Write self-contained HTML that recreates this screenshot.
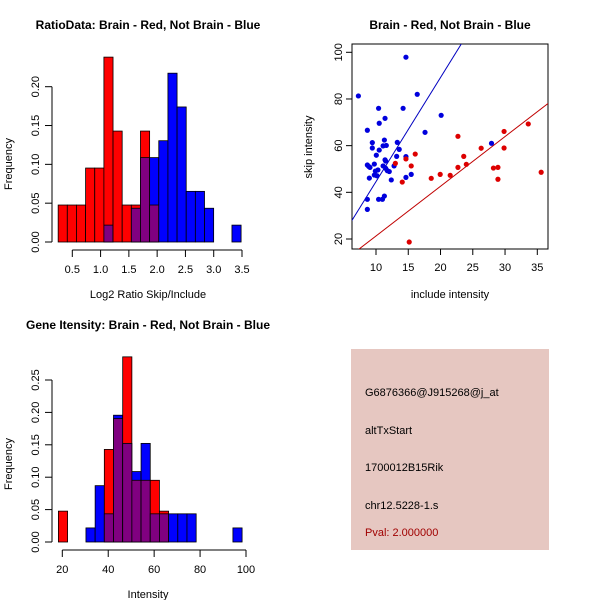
<!DOCTYPE html>
<html><head><meta charset="utf-8"><style>
body{margin:0;background:#fff;}
svg{display:block;font-family:"Liberation Sans",Arial,sans-serif;}
</style></head><body>
<svg id="s" width="600" height="600" viewBox="0 0 600 600" xmlns="http://www.w3.org/2000/svg">
<rect width="600" height="600" fill="#fff"/>
<g id="p1"></g>
<g id="p2"></g>
<g id="p3"></g>
<g id="p4">
<rect x="351" y="349" width="198" height="201" fill="#e6c7c1"/>
<text x="365" y="396" font-size="11">G6876366@J915268@j_at</text>
<text x="365" y="434" font-size="11">altTxStart</text>
<text x="365" y="471" font-size="11">1700012B15Rik</text>
<text x="365" y="509" font-size="11">chr12.5228-1.s</text>
<text x="365" y="536" font-size="11" fill="#a00000">Pval: 2.000000</text>
</g>
</svg>
<script>
// Histogram 1 data
const h1Start = 0.25, h1Width = 0.1617;
const h1Red  = [1,1,1,2,2,5,3,1,1,3,1,0,0,0,0,0,0,0,0,0];
const h1Blue = [0,0,0,0,0,1,0,0,2,5,5,6,10,8,3,3,2,0,0,1];
const h1XTicks = [0.5,1.0,1.5,2.0,2.5,3.0,3.5];
const h1XTickLabels = ["0.5","1.0","1.5","2.0","2.5","3.0","3.5"];
const h1YTicks = [0,0.05,0.10,0.15,0.20];
const h1YTickLabels = ["0.00","0.05","0.10","0.15","0.20"];
// Histogram 3 data
const h3Start = 18.3, h3Width = 4;
const h3Red  = [1,0,0,0,0,3,4,6,2,2,2,1,0,0,0,0,0,0,0,0];
const h3Blue = [0,0,0,1,4,2,9,7,5,7,2,2,2,2,2,0,0,0,0,1];
const h3XTicks = [20,40,60,80,100];
const h3XTickLabels = ["20","40","60","80","100"];
const h3YTicks = [0,0.05,0.10,0.15,0.20,0.25];
const h3YTickLabels = ["0.00","0.05","0.10","0.15","0.20","0.25"];
// Scatter data
const blueX = [7.27,14.64,16.39,14.2,10.4,11.4,10.5,8.66,20.1,17.6,27.9,9.43,9.43,10.5,11.3,11.1,11.6,13.3,13.6,10.05,13.2,14.64,11.4,11.5,9.74,8.66,8.87,9.07,11.1,11.5,12.8,10.3,11.75,12.06,9.9,9.74,10.15,8.97,14.64,15.46,12.37,8.66,11.3,10.4,11.0,8.66];
const blueY = [81.3,97.9,82,76,76,71.7,69.6,66.6,73,65.7,61,61.3,59,58.1,62.4,59.9,60.1,61.4,58.4,55.9,55.4,55.3,53.9,53.4,52.1,51.7,51.1,50.7,51.3,50.3,51.3,49.6,49.3,48.9,49.1,47.4,47.1,46.1,46.4,47.7,45.3,37,38.4,37,37,32.7];
const redX = [16.08,22.7,29.85,33.6,26.3,29.85,23.6,24.0,13.0,14.64,15.46,22.7,28.2,28.9,18.56,19.95,21.5,35.6,28.9,14.07,15.15];
const redY = [56.4,64,66.1,69.3,58.9,59,55.4,52,52.4,54.3,51.3,50.7,50.4,50.7,46,47.7,47.3,48.6,45.6,44.4,18.7];
const blueSlope = 4.46, redSlope = 2.13;
const scXTicks = [10,15,20,25,30,35];
const scXTickLabels = ["10","15","20","25","30","35"];
const scYTicks = [20,40,60,80,100];

const NS="http://www.w3.org/2000/svg";
function mk(parent,tag,attrs,text){const e=document.createElementNS(NS,tag);for(const k in attrs)e.setAttribute(k,attrs[k]);if(text!==undefined)e.textContent=text;parent.appendChild(e);return e;}
function lin(d0,d1,r0,r1){return v=>r0+(v-d0)*(r1-r0)/(d1-d0);}

function hist(g,o){
  const x=lin(o.xd0,o.xd1,o.xr0,o.xr1), y=lin(0,o.yRef,o.y0,o.yRefPx);
  const nR=o.red.reduce((a,b)=>a+b,0), nB=o.blue.reduce((a,b)=>a+b,0);
  for(let i=0;i<o.red.length;i++){
    const a=x(o.start+i*o.width), b=x(o.start+(i+1)*o.width);
    const fr=o.red[i]/nR, fb=o.blue[i]/nB;
    const hi=Math.max(fr,fb), lo=Math.min(fr,fb);
    if(hi>0){
      const r=mk(g,'rect',{x:a,y:y(hi),width:b-a,height:y(0)-y(hi),fill:fr>=fb?'#ff0000':'#0000ff',stroke:'#000','stroke-width':0.8});
      
      
    }
    if(lo>0){
      const r=mk(g,'rect',{x:a,y:y(lo),width:b-a,height:y(0)-y(lo),fill:'#800080',stroke:'#000','stroke-width':0.8});
      
      
    }
  }
  const ya=mk(g,'line',{x1:52,x2:52,y1:y(o.yTicks[0]),y2:y(o.yTicks[o.yTicks.length-1]),stroke:'#000'});
  
  o.yTicks.forEach((t,i)=>{
    mk(g,'line',{x1:45,x2:52,y1:y(t),y2:y(t),stroke:'#000'});
    const tx=mk(g,'text',{x:0,y:0,'font-size':11,'text-anchor':'middle',transform:`translate(39,${y(t)}) rotate(-90)`},o.yLabels[i]);
    
  });
  const xa=mk(g,'line',{x1:x(o.xTicks[0]),x2:x(o.xTicks[o.xTicks.length-1]),y1:o.y0+8,y2:o.y0+8,stroke:'#000'});
  
  o.xTicks.forEach((t,i)=>{
    mk(g,'line',{x1:x(t),x2:x(t),y1:o.y0+8,y2:o.y0+15,stroke:'#000'});
    const tx=mk(g,'text',{x:x(t),y:o.y0+31,'font-size':11,'text-anchor':'middle'},o.xLabels[i]);
    
  });
  const yt=mk(g,'text',{x:0,y:0,'font-size':11,'text-anchor':'middle',transform:`translate(12,${o.y0-78}) rotate(-90)`},'Frequency');
  
  const xt=mk(g,'text',{x:148,y:o.y0+56,'font-size':11,'text-anchor':'middle'},o.xTitle);
  
  const tt=mk(g,'text',{x:148,y:o.titleY,'font-size':12,'font-weight':'bold','text-anchor':'middle'},o.title);
  
}

hist(document.getElementById('p1'),{start:h1Start,width:h1Width,red:h1Red,blue:h1Blue,
  xd0:0.5,xd1:3.5,xr0:72.3,xr1:242,yRef:0.2,y0:242,yRefPx:86.7,
  xTicks:h1XTicks,xLabels:h1XTickLabels,yTicks:h1YTicks,yLabels:h1YTickLabels,
  xTitle:'Log2 Ratio Skip/Include',title:'RatioData: Brain - Red, Not Brain - Blue',titleY:29});
hist(document.getElementById('p3'),{start:h3Start,width:h3Width,red:h3Red,blue:h3Blue,
  xd0:20,xd1:100,xr0:62.3,xr1:246,yRef:0.25,y0:542,yRefPx:380,
  xTicks:h3XTicks,xLabels:h3XTickLabels,yTicks:h3YTicks,yLabels:h3YTickLabels,
  xTitle:'Intensity',title:'Gene Itensity: Brain - Red, Not Brain - Blue',titleY:329});

(function(){
  const g=document.getElementById('p2');
  const L=352,R=548,T=44,B=249;
  const x=lin(10,35,376,537.3), y=lin(20,100,239,52.3);
  mk(g,'defs',{}).innerHTML=`<clipPath id="cp"><rect x="${L}" y="${T}" width="${R-L}" height="${B-T}"/></clipPath>`;
  const box=mk(g,'rect',{x:L,y:T,width:R-L,height:B-T,fill:'none',stroke:'#000'});
  
  const cg=mk(g,'g',{'clip-path':'url(#cp)'});
  const xs0=5, xs1=40;
  const bl=mk(cg,'line',{x1:x(xs0),y1:y(blueSlope*xs0),x2:x(xs1),y2:y(blueSlope*xs1),stroke:'#0000c0'});
  
  const rl=mk(cg,'line',{x1:x(xs0),y1:y(redSlope*xs0),x2:x(xs1),y2:y(redSlope*xs1),stroke:'#c00000'});
  
  blueX.forEach((v,i)=>{const c=mk(g,'circle',{cx:x(v),cy:y(blueY[i]),r:2.6,fill:'#0000dd'});
    });
  redX.forEach((v,i)=>{const c=mk(g,'circle',{cx:x(v),cy:y(redY[i]),r:2.6,fill:'#dd0000'});
    });
  scXTicks.forEach((t,i)=>{mk(g,'line',{x1:x(t),x2:x(t),y1:B,y2:B+6,stroke:'#000'});
    const tx=mk(g,'text',{x:x(t),y:B+22,'font-size':11,'text-anchor':'middle'},scXTickLabels[i]);
    });
  scYTicks.forEach(t=>{mk(g,'line',{x1:L-6,x2:L,y1:y(t),y2:y(t),stroke:'#000'});
    const tx=mk(g,'text',{x:0,y:0,'font-size':11,'text-anchor':'middle',transform:`translate(${L-10},${y(t)}) rotate(-90)`},String(t));
    });
  const yt=mk(g,'text',{x:0,y:0,'font-size':11,'text-anchor':'middle',transform:`translate(312,147) rotate(-90)`},'skip intensity');
  
  const xt=mk(g,'text',{x:450,y:298,'font-size':11,'text-anchor':'middle'},'include intensity');
  
  const tt=mk(g,'text',{x:450,y:29,'font-size':12,'font-weight':'bold','text-anchor':'middle'},'Brain - Red, Not Brain - Blue');
  
})();
</script>
</body></html>
